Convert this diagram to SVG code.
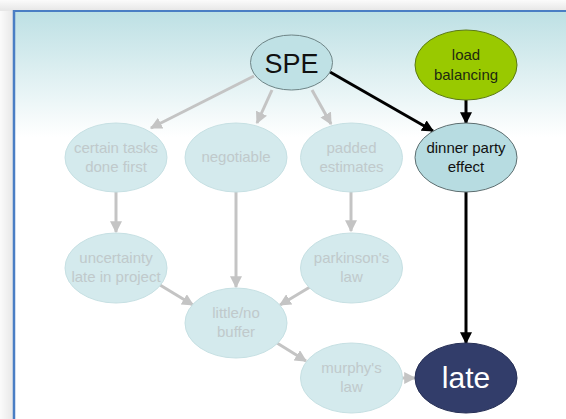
<svg xmlns="http://www.w3.org/2000/svg" width="566" height="419" viewBox="0 0 566 419">
  <defs>
    <linearGradient id="bg" x1="0" y1="0" x2="0" y2="1" gradientUnits="objectBoundingBox">
      <stop offset="0" stop-color="#bde0e4"/>
      <stop offset="0.3" stop-color="#ffffff"/>
      <stop offset="1" stop-color="#ffffff"/>
    </linearGradient>
    <linearGradient id="shL" x1="0" y1="0" x2="1" y2="0">
      <stop offset="0" stop-color="#fbfbfb"/>
      <stop offset="1" stop-color="#e6e6e6"/>
    </linearGradient>
    <linearGradient id="shT" x1="0" y1="0" x2="0" y2="1">
      <stop offset="0" stop-color="#fbfbfb"/>
      <stop offset="1" stop-color="#e6e6e6"/>
    </linearGradient>
    <marker id="ag" viewBox="0 0 10 10" refX="9" refY="5" markerWidth="4" markerHeight="4" orient="auto" markerUnits="strokeWidth">
      <path d="M0,0 L10,5 L0,10 z" fill="#c4c4c4"/>
    </marker>
    <marker id="ab" viewBox="0 0 10 10" refX="9" refY="5" markerWidth="4" markerHeight="4" orient="auto" markerUnits="strokeWidth">
      <path d="M0,0 L10,5 L0,10 z" fill="#000000"/>
    </marker>
  </defs>
  <style>
    .faded ellipse { fill: #d4eaed; stroke: #c6e0e3; stroke-width: 1; }
    .faded text { fill: #c0c9cb; }
    text { font-family: "Liberation Sans", Arial, sans-serif; text-anchor: middle; }
    .t15 { font-size: 15px; }
    .g { stroke: #c4c4c4; stroke-width: 3; fill: none; marker-end: url(#ag); }
    .b { stroke: #000000; stroke-width: 3; fill: none; marker-end: url(#ab); }
  </style>

  <rect x="0" y="0" width="566" height="419" fill="#ffffff"/>
  <rect x="0" y="0" width="14" height="419" fill="url(#shL)"/>
  <rect x="0" y="0" width="566" height="11" fill="url(#shT)"/>
  <rect x="14" y="11" width="560" height="420" fill="url(#bg)"/>
  <line x1="14" y1="11" x2="566" y2="11" stroke="#4a7ec4" stroke-width="2"/>
  <line x1="14" y1="10" x2="14" y2="419" stroke="#4a7ec4" stroke-width="2.5"/>

  <g id="connectors">
    <line class="g" x1="254" y1="76" x2="151" y2="128"/>
    <line class="g" x1="272" y1="90" x2="257" y2="123"/>
    <line class="g" x1="312" y1="90" x2="331" y2="124"/>
    <line class="g" x1="116" y1="192" x2="116" y2="232"/>
    <line class="g" x1="236" y1="192" x2="236" y2="287"/>
    <line class="g" x1="351" y1="192" x2="351" y2="231"/>
    <line class="g" x1="160" y1="285" x2="193" y2="305"/>
    <line class="g" x1="310" y1="287" x2="280" y2="305"/>
    <line class="g" x1="277" y1="343" x2="306" y2="361"/>
    <line class="g" x1="402" y1="378" x2="415" y2="378"/>
    <line class="b" x1="330" y1="72" x2="433" y2="131"/>
    <line class="b" x1="466" y1="100" x2="466" y2="123"/>
    <line class="b" x1="466" y1="192" x2="466" y2="343"/>
  </g>

  <g id="spe">
    <ellipse cx="291.5" cy="62.5" rx="41" ry="27.5" fill="#bfe1e5" stroke="#6e8486" stroke-width="1"/>
    <text x="291.5" y="73" font-size="27" fill="#111111">SPE</text>
  </g>
  <g id="load-balancing">
    <ellipse cx="466" cy="65" rx="51" ry="35" fill="#99c900" stroke="#5c7a14" stroke-width="1"/>
    <text class="t15" x="466" y="60" fill="#1e2a10">load</text>
    <text class="t15" x="466" y="80" fill="#1e2a10">balancing</text>
  </g>
  <g id="certain-tasks" class="faded">
    <ellipse cx="116" cy="157.5" rx="51" ry="34.5"/>
    <text class="t15" x="116" y="153">certain tasks</text>
    <text class="t15" x="116" y="172">done first</text>
  </g>
  <g id="negotiable" class="faded">
    <ellipse cx="236" cy="157.5" rx="51" ry="34.5"/>
    <text class="t15" x="236" y="162">negotiable</text>
  </g>
  <g id="padded-estimates" class="faded">
    <ellipse cx="351.5" cy="157.5" rx="51" ry="34.5"/>
    <text class="t15" x="351.5" y="153">padded</text>
    <text class="t15" x="351.5" y="172">estimates</text>
  </g>
  <g id="dinner-party">
    <ellipse cx="466" cy="157.5" rx="51" ry="34.5" fill="#b7dce1" stroke="#5d6e70" stroke-width="1"/>
    <text class="t15" x="466" y="153" fill="#111111">dinner party</text>
    <text class="t15" x="466" y="172" fill="#111111">effect</text>
  </g>
  <g id="uncertainty" class="faded">
    <ellipse cx="116" cy="268" rx="51" ry="35"/>
    <text class="t15" x="116" y="263">uncertainty</text>
    <text class="t15" x="116" y="282">late in project</text>
  </g>
  <g id="parkinsons-law" class="faded">
    <ellipse cx="351.5" cy="268" rx="51" ry="35"/>
    <text class="t15" x="351.5" y="263">parkinson's</text>
    <text class="t15" x="351.5" y="282">law</text>
  </g>
  <g id="little-no-buffer" class="faded">
    <ellipse cx="236" cy="323" rx="51" ry="35"/>
    <text class="t15" x="236" y="318">little/no</text>
    <text class="t15" x="236" y="337">buffer</text>
  </g>
  <g id="murphys-law" class="faded">
    <ellipse cx="351.5" cy="378" rx="51" ry="35"/>
    <text class="t15" x="351.5" y="373">murphy's</text>
    <text class="t15" x="351.5" y="392">law</text>
  </g>
  <g id="late">
    <ellipse cx="466" cy="378" rx="51" ry="35" fill="#323d6a" stroke="#262f55" stroke-width="1"/>
    <text x="466" y="388" font-size="30" fill="#ffffff">late</text>
  </g>
</svg>
